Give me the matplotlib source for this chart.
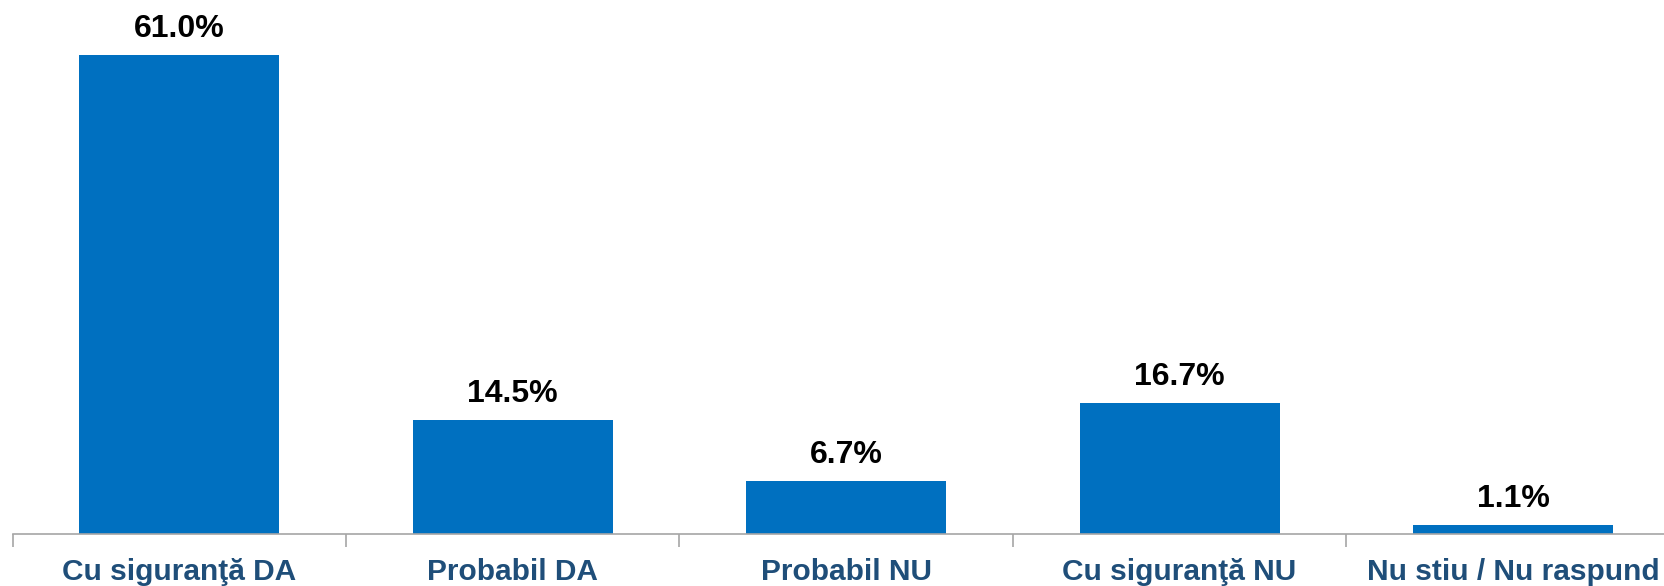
import matplotlib
matplotlib.use("Agg")
import matplotlib.pyplot as plt
import numpy as np

categories = ['Cu siguranţă DA', 'Probabil DA', 'Probabil NU', 'Cu siguranţă NU', 'Nu stiu / Nu raspund']
values = [61.0, 14.5, 6.7, 16.7, 1.1]
labels = ['61.0%', '14.5%', '6.7%', '16.7%', '1.1%']

bar_color = '#0070C0'
cat_color = '#1F4E79'

plt.rcParams['font.family'] = ['Liberation Sans', 'DejaVu Sans']

W, H = 1665, 586
fig = plt.figure(figsize=(W / 100, H / 100), dpi=100)
# axes: baseline at y=534px, category slots ~333.4px wide starting at x=12.7px
left = 12.7 / W
slot = 333.4 / W
bottom = (H - 534) / H
ax = fig.add_axes([left, bottom, 5 * slot, 534 / H])

x = np.arange(len(values))
ax.bar(x, values, width=0.6, color=bar_color, zorder=2)
ax.set_xlim(-0.5, len(values) - 0.5)
ax.set_ylim(0, 68.0)

for xi, v, lab in zip(x, values, labels):
    ax.annotate(lab, (xi, v), xytext=(0, 8), textcoords='offset points',
                ha='center', va='bottom', fontsize=23, fontweight='bold', color='black')

for s in ['top', 'right', 'left']:
    ax.spines[s].set_visible(False)
ax.spines['bottom'].set_color('#A6A6A6')
ax.spines['bottom'].set_linewidth(1.2)
ax.set_yticks([])

# boundary ticks between categories
ax.set_xticks(np.arange(len(values) + 1) - 0.5)
ax.set_xticklabels([])
ax.tick_params(axis='x', length=9, color='#A6A6A6', width=1.2, direction='out')
ax.set_xticks(x, minor=True)
ax.set_xticklabels(categories, minor=True, fontsize=21.5, fontweight='bold', color=cat_color)
ax.tick_params(axis='x', which='minor', length=0, pad=17)

fig.savefig('out.png', dpi=100)
